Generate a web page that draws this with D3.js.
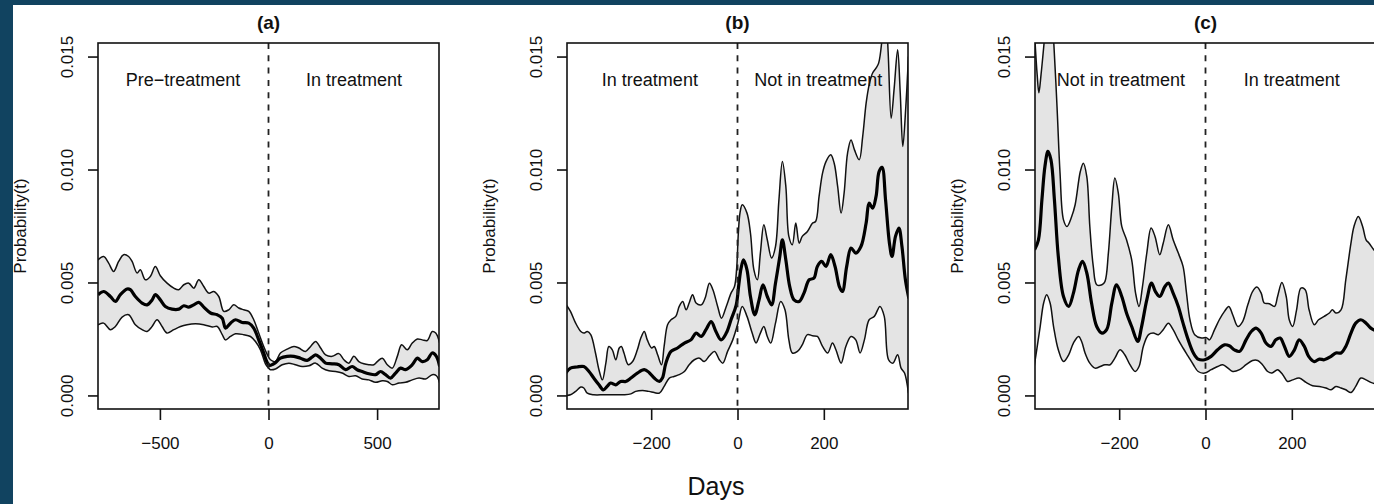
<!DOCTYPE html>
<html>
<head>
<meta charset="utf-8">
<script src="https://cdn.jsdelivr.net/npm/d3@7"></script>
<style>
  body { margin: 0; background: #fff; }
  svg { display: block; }
  text { font-family: "Liberation Sans", Arial, Helvetica, sans-serif; fill: #111; }
</style>
</head>
<body>
<svg id="chart"></svg>
<script>
// values, [day, probability x 1000]
const aUpper = [[-785, 6.0], [-759, 6.15], [-736, 5.86], [-713, 5.49], [-690, 5.93], [-667, 6.23], [-644, 6.15], [-628, 5.93], [-605, 5.42], [-590, 5.56], [-567, 5.12], [-544, 5.27], [-521, 5.71], [-498, 5.3], [-467, 4.97], [-436, 4.75], [-413, 4.68], [-390, 4.90], [-367, 4.97], [-344, 4.75], [-321, 5.12], [-298, 4.82], [-275, 4.53], [-252, 4.60], [-229, 4.38], [-206, 3.72], [-183, 3.79], [-160, 4.01], [-137, 3.87], [-114, 3.79], [-91, 3.72], [-68, 3.35], [-45, 2.76], [-22, 2.17], [-5, 1.8], [9, 1.58], [32, 1.50], [55, 1.88], [86, 2.05], [117, 2.17], [140, 2.10], [170, 1.95], [194, 2.17], [217, 2.39], [240, 2.10], [263, 1.80], [293, 1.73], [324, 1.85], [347, 1.58], [370, 1.43], [393, 1.73], [416, 1.50], [439, 1.40], [462, 1.36], [485, 1.36], [501, 1.50], [524, 1.65], [547, 1.36], [570, 1.21], [593, 1.73], [613, 2.24], [639, 2.02], [662, 2.32], [685, 2.50], [708, 2.46], [731, 2.43], [754, 2.83], [770, 2.76], [788, 2.32]]
const aMean = [[-785, 4.46], [-759, 4.60], [-728, 4.38], [-705, 4.16], [-682, 4.46], [-651, 4.71], [-636, 4.68], [-613, 4.38], [-582, 4.09], [-559, 4.01], [-536, 4.23], [-521, 4.46], [-498, 4.23], [-475, 3.94], [-444, 3.82], [-413, 3.82], [-390, 3.97], [-367, 3.91], [-344, 4.01], [-321, 4.12], [-298, 3.91], [-267, 3.65], [-236, 3.57], [-213, 3.42], [-198, 2.98], [-175, 3.20], [-152, 3.35], [-121, 3.23], [-91, 3.20], [-68, 2.98], [-45, 2.46], [-22, 1.88], [-8, 1.5], [5, 1.33], [20, 1.38], [32, 1.45], [55, 1.65], [86, 1.73], [117, 1.73], [147, 1.65], [178, 1.55], [201, 1.70], [217, 1.80], [240, 1.65], [263, 1.43], [293, 1.40], [324, 1.36], [355, 1.14], [385, 1.28], [408, 1.14], [431, 1.06], [462, 0.96], [493, 0.92], [516, 1.06], [539, 0.92], [562, 0.77], [585, 0.99], [608, 1.21], [631, 1.14], [662, 1.36], [685, 1.65], [708, 1.50], [731, 1.58], [754, 1.88], [773, 1.73], [788, 1.28]]
const aLower = [[-785, 3.13], [-759, 3.20], [-728, 2.91], [-705, 3.05], [-674, 3.47], [-644, 3.57], [-613, 3.13], [-582, 2.91], [-559, 2.83], [-536, 3.05], [-513, 3.35], [-490, 3.05], [-467, 2.76], [-436, 2.91], [-405, 3.05], [-375, 3.13], [-336, 3.17], [-298, 3.13], [-259, 3.03], [-236, 3.05], [-213, 2.69], [-198, 2.46], [-175, 2.61], [-152, 2.73], [-114, 2.69], [-83, 2.61], [-60, 2.39], [-37, 2.02], [-14, 1.40], [0, 1.22], [9, 1.14], [32, 1.17], [63, 1.36], [94, 1.43], [124, 1.36], [155, 1.28], [186, 1.31], [217, 1.43], [247, 1.21], [278, 1.09], [309, 1.06], [339, 0.99], [370, 0.84], [401, 0.87], [431, 0.73], [462, 0.69], [493, 0.58], [524, 0.65], [547, 0.62], [570, 0.47], [601, 0.55], [631, 0.58], [662, 0.69], [693, 0.77], [723, 0.73], [754, 0.92], [773, 0.87], [788, 0.55]]

const bUpper = [[-398, 4.05], [-387, 3.72], [-375, 3.20], [-363, 2.83], [-356, 2.76], [-348, 2.83], [-340, 2.69], [-329, 1.88], [-321, 1.14], [-313, 0.69], [-305, 1.43], [-298, 2.17], [-290, 2.02], [-282, 1.58], [-274, 2.10], [-269, 2.17], [-263, 1.88], [-253, 1.36], [-243, 1.50], [-232, 2.02], [-224, 2.54], [-216, 2.83], [-209, 2.46], [-199, 2.10], [-193, 2.17], [-185, 1.80], [-176, 1.36], [-170, 2.17], [-162, 3.13], [-154, 3.35], [-143, 3.50], [-135, 3.94], [-127, 4.16], [-119, 3.79], [-112, 4.09], [-104, 4.46], [-96, 4.09], [-84, 4.01], [-75, 4.31], [-65, 4.97], [-57, 4.68], [-46, 3.94], [-37, 3.42], [-26, 3.94], [-15, 4.53], [-7, 4.82], [-2, 5.6], [2, 7.2], [6, 8.1], [11, 8.44], [22, 8.07], [30, 7.19], [38, 5.56], [46, 5.12], [53, 6.30], [61, 7.55], [69, 6.89], [79, 6.08], [88, 6.59], [96, 8.66], [104, 10.35], [112, 9.25], [119, 7.04], [127, 6.67], [135, 7.63], [143, 6.74], [150, 7.04], [162, 7.26], [174, 7.63], [181, 7.70], [189, 8.81], [197, 9.84], [205, 10.35], [216, 10.65], [224, 10.28], [232, 9.25], [240, 8.07], [247, 8.96], [255, 10.73], [263, 11.31], [271, 10.87], [282, 10.43], [290, 11.46], [298, 12.94], [305, 13.75], [313, 14.27], [321, 14.49], [327, 14.71], [335, 15.8], [342, 17.5], [349, 15.2], [356, 12.27], [363, 13.6], [371, 15.3], [377, 13.4], [383, 11.02], [390, 12.8], [396, 15.0]]
const bMean = [[-398, 0.99], [-387, 1.21], [-372, 1.26], [-356, 1.28], [-344, 1.06], [-333, 0.77], [-321, 0.47], [-311, 0.25], [-302, 0.40], [-294, 0.55], [-282, 0.47], [-271, 0.62], [-259, 0.62], [-247, 0.77], [-232, 0.99], [-216, 1.14], [-205, 1.02], [-193, 0.77], [-181, 0.62], [-174, 0.77], [-166, 1.43], [-154, 1.95], [-139, 2.10], [-123, 2.32], [-108, 2.46], [-96, 2.76], [-84, 2.61], [-73, 2.91], [-61, 3.27], [-50, 2.83], [-38, 2.46], [-26, 2.76], [-15, 3.35], [-3, 4.0], [3, 4.9], [8, 5.6], [14, 6.0], [22, 5.56], [30, 4.38], [40, 3.57], [50, 4.23], [59, 4.90], [69, 4.38], [79, 4.01], [88, 4.97], [98, 6.15], [104, 6.89], [112, 6.00], [121, 4.82], [131, 4.23], [143, 4.16], [154, 4.53], [166, 5.12], [177, 5.19], [185, 5.71], [195, 5.93], [205, 5.71], [216, 6.23], [226, 5.71], [236, 4.82], [243, 4.60], [253, 5.71], [263, 6.52], [274, 6.30], [286, 6.59], [298, 7.63], [305, 8.51], [313, 8.29], [321, 8.81], [328, 9.91], [335, 10.1], [343, 8.66], [352, 6.74], [358, 6.15], [366, 7.04], [374, 7.41], [381, 6.59], [389, 5.12], [397, 4.3]]
const bLower = [[-398, 0.0], [-387, 0.03], [-375, 0.18], [-363, 0.37], [-356, 0.33], [-348, 0.10], [-333, 0.03], [-310, 0.03], [-286, 0.03], [-263, 0.03], [-247, 0.07], [-236, 0.18], [-220, 0.22], [-205, 0.18], [-193, 0.13], [-181, 0.10], [-170, 0.40], [-158, 0.77], [-147, 0.84], [-135, 0.92], [-123, 1.06], [-112, 1.36], [-100, 1.58], [-88, 1.65], [-77, 1.50], [-65, 1.76], [-53, 1.95], [-42, 1.58], [-34, 1.43], [-23, 1.95], [-11, 2.46], [1, 3.2], [11, 3.94], [22, 3.50], [34, 2.76], [43, 2.32], [53, 2.76], [61, 3.05], [69, 2.61], [77, 2.32], [88, 3.20], [100, 4.16], [110, 3.79], [119, 2.46], [127, 1.88], [139, 1.95], [150, 2.24], [162, 2.69], [174, 2.64], [185, 2.61], [197, 2.17], [209, 1.88], [220, 2.32], [228, 2.02], [240, 1.43], [251, 2.17], [263, 2.61], [274, 2.46], [284, 1.88], [294, 2.46], [305, 3.35], [317, 3.50], [330, 3.94], [340, 3.50], [350, 1.58], [360, 1.43], [371, 1.80], [379, 1.21], [387, 0.99], [396, 0.10]]

const cUpper = [[-396, 16.0], [-390, 14.2], [-386, 13.4], [-381, 14.2], [-373, 15.8], [-365, 17.5], [-358, 17.5], [-352, 15.8], [-344, 12.79], [-337, 9.84], [-329, 7.77], [-321, 7.48], [-310, 7.92], [-302, 8.44], [-290, 9.91], [-283, 10.28], [-275, 9.69], [-268, 7.48], [-260, 5.71], [-252, 4.90], [-240, 4.90], [-233, 5.04], [-225, 6.30], [-217, 8.36], [-210, 9.62], [-202, 8.96], [-194, 7.48], [-183, 6.89], [-171, 6.00], [-162, 4.53], [-154, 3.94], [-146, 4.82], [-136, 6.30], [-126, 7.41], [-117, 7.04], [-106, 6.23], [-98, 6.74], [-86, 7.55], [-75, 6.89], [-63, 6.30], [-52, 5.71], [-44, 4.53], [-36, 3.35], [-25, 2.69], [-9, 2.54], [2, 2.56], [9, 2.46], [21, 2.91], [32, 3.35], [44, 3.72], [54, 3.94], [63, 3.57], [75, 3.05], [86, 3.27], [98, 4.01], [109, 4.60], [119, 4.80], [129, 4.53], [136, 4.09], [148, 4.06], [160, 3.94], [167, 4.38], [177, 5.00], [187, 4.38], [194, 3.35], [202, 3.05], [211, 3.79], [221, 4.75], [231, 4.68], [240, 3.79], [252, 3.13], [262, 3.35], [275, 3.50], [287, 3.65], [294, 3.79], [302, 3.65], [314, 3.79], [325, 5.12], [337, 6.74], [344, 7.48], [354, 7.92], [364, 7.48], [372, 6.89], [379, 6.74], [387, 6.52], [396, 6.3]]
const cMean = [[-396, 6.45], [-387, 6.89], [-379, 8.66], [-372, 10.13], [-365, 10.80], [-358, 10.43], [-350, 8.66], [-341, 6.15], [-329, 4.38], [-317, 3.94], [-306, 4.53], [-294, 5.56], [-285, 5.93], [-275, 5.42], [-264, 4.09], [-252, 3.05], [-240, 2.76], [-229, 2.91], [-217, 4.09], [-206, 4.90], [-194, 4.38], [-183, 3.65], [-171, 3.05], [-157, 2.39], [-148, 3.05], [-136, 4.23], [-125, 4.97], [-116, 4.60], [-106, 4.38], [-94, 4.82], [-86, 4.97], [-75, 4.53], [-63, 3.94], [-52, 3.20], [-40, 2.46], [-28, 1.88], [-17, 1.61], [-2, 1.58], [13, 1.73], [28, 2.02], [44, 2.24], [55, 2.20], [67, 2.02], [79, 1.95], [94, 2.46], [106, 2.83], [117, 2.98], [129, 2.76], [140, 2.32], [152, 2.17], [163, 2.46], [173, 2.54], [183, 2.17], [194, 1.73], [206, 2.02], [217, 2.46], [229, 2.17], [239, 1.73], [252, 1.50], [264, 1.61], [275, 1.58], [291, 1.73], [302, 1.88], [314, 1.88], [325, 2.17], [337, 2.76], [348, 3.20], [360, 3.35], [372, 3.20], [383, 2.98], [396, 2.85]]
const cLower = [[-398, 1.14], [-391, 2.02], [-383, 3.05], [-375, 4.09], [-368, 4.46], [-360, 4.09], [-352, 3.05], [-341, 2.02], [-329, 1.50], [-317, 1.80], [-306, 2.32], [-294, 2.61], [-287, 2.39], [-279, 1.88], [-268, 1.43], [-256, 1.21], [-244, 1.28], [-233, 1.36], [-221, 1.36], [-210, 1.65], [-198, 2.02], [-187, 1.80], [-175, 1.36], [-163, 1.06], [-154, 1.28], [-144, 2.17], [-132, 2.69], [-121, 2.76], [-109, 2.69], [-98, 2.91], [-86, 3.20], [-75, 2.91], [-63, 2.46], [-52, 2.10], [-40, 1.73], [-28, 1.36], [-17, 1.06], [-2, 0.99], [13, 1.14], [28, 1.28], [40, 1.36], [52, 1.21], [63, 1.06], [79, 1.14], [94, 1.36], [109, 1.55], [121, 1.55], [132, 1.36], [144, 1.06], [154, 0.99], [167, 1.14], [179, 0.92], [190, 0.62], [202, 0.69], [217, 0.77], [233, 0.58], [248, 0.43], [264, 0.40], [279, 0.33], [291, 0.25], [302, 0.40], [314, 0.33], [325, 0.25], [337, 0.13], [348, 0.40], [360, 0.77], [372, 0.69], [383, 0.58], [396, 0.50]]

const panelTitles = ['(a)', '(b)', '(c)']
const phaseLabels = [['Pre\u2212treatment', 'In treatment'], ['In treatment', 'Not in treatment'], ['Not in treatment', 'In treatment']]
const phaseLabelDays = [[-394, 394], [-203, 187], [-196, 200]]
const xDomains = [[-785, 785], [-395, 395], [-395, 395]]
const xTicks = [[-500, 0, 500], [-200, 0, 200], [-200, 0, 200]]
const yTicks = [0, 0.005, 0.010, 0.015]
const yDomain = [-0.0006, 0.0156]

const toProb = arr => arr.map(([d, v]) => [d, v / 1000])
const series = [
    [aUpper, aMean, aLower],
    [bUpper, bMean, bLower],
    [cUpper, cMean, cLower]
].map(s => s.map(toProb))

const W = 1374, H = 504
const plotW = 341, plotH = 366, plotTop = 43
const panelLefts = [98, 567, 1035]
const edge = '#114360'

const svg = d3.select('#chart').attr('width', W).attr('height', H)
svg.append('rect').attr('width', W).attr('height', H).attr('fill', '#fff')

panelTitles.forEach((title, i) => {
    const [upper, mean, lower] = series[i]
    const x = d3.scaleLinear().domain(xDomains[i]).range([0, plotW])
    const y = d3.scaleLinear().domain(yDomain).range([plotH, 0])
    const g = svg.append('g').attr('transform', `translate(${panelLefts[i]},${plotTop})`)

    g.append('clipPath').attr('id', `clip-${i}`)
        .append('rect').attr('width', plotW).attr('height', plotH)
    const plot = g.append('g').attr('clip-path', `url(#clip-${i})`)

    const line = d3.line()
        .x(d => x(d[0]))
        .y(d => y(d[1]))
        .curve(d3.curveCatmullRom.alpha(0.5))

    // confidence band: upper forward, lower back
    const band = line(upper) + 'L' + line(lower.slice().reverse()).slice(1) + 'Z'
    plot.append('path').attr('d', band).attr('fill', '#e4e4e4').attr('stroke', 'none')

    g.selectAll('text.phase')
        .data(phaseLabels[i])
        .join('text')
        .classed('phase', true)
        .attr('x', (d, k) => x(phaseLabelDays[i][k]))
        .attr('y', 43)
        .attr('text-anchor', 'middle')
        .style('font-size', '18px')
        .text(d => d)

    plot.selectAll('path.bound')
        .data([upper, lower])
        .join('path')
        .classed('bound', true)
        .attr('d', line)
        .attr('fill', 'none')
        .attr('stroke', '#111')
        .attr('stroke-width', 1.5)

    plot.append('path')
        .attr('d', line(mean))
        .attr('fill', 'none')
        .attr('stroke', '#000')
        .attr('stroke-width', 3.2)
        .attr('stroke-linejoin', 'round')

    g.append('line')
        .attr('x1', x(0)).attr('x2', x(0))
        .attr('y1', 0).attr('y2', plotH)
        .attr('stroke', '#222')
        .attr('stroke-width', 1.8)
        .attr('stroke-dasharray', '6,6.3')

    g.append('rect')
        .attr('width', plotW).attr('height', plotH)
        .attr('fill', 'none').attr('stroke', '#111').attr('stroke-width', 1.6)

    const xAxis = g.append('g')
        .attr('transform', `translate(0,${plotH})`)
        .call(d3.axisBottom(x).tickValues(xTicks[i]).tickSize(11).tickSizeOuter(0).tickPadding(16.5))
    xAxis.select('.domain').remove()
    xAxis.selectAll('line').attr('stroke', '#111').attr('stroke-width', 1.6)
    xAxis.selectAll('text').style('font-size', '17px').style('font-family', '"Liberation Sans", Arial, sans-serif').attr('fill', '#111')

    const yAxis = g.append('g')
        .call(d3.axisLeft(y).tickValues(yTicks).tickSize(10).tickFormat(d3.format('.3f')))
    yAxis.select('.domain').remove()
    yAxis.selectAll('line').attr('stroke', '#111').attr('stroke-width', 1.6)
    yAxis.selectAll('text')
        .attr('x', 0).attr('dy', null)
        .attr('transform', 'translate(-25,0) rotate(-90)')
        .attr('text-anchor', 'middle')
        .style('font-size', '17px')
        .style('font-family', '"Liberation Sans", Arial, sans-serif')
        .attr('fill', '#111')

    g.append('text')
        .attr('transform', `translate(-72,${plotH / 2}) rotate(-90)`)
        .attr('text-anchor', 'middle')
        .style('font-size', '17px')
        .text('Probability(t)')

    g.append('text')
        .attr('x', x(0)).attr('y', -13.7)
        .attr('text-anchor', 'middle')
        .style('font-size', '19px').style('font-weight', 'bold')
        .text(title)
})

svg.append('text')
    .attr('x', 716).attr('y', 495)
    .attr('text-anchor', 'middle')
    .style('font-size', '25px')
    .text('Days')

// dark frame strips from the page the figure sits in
svg.append('rect').attr('width', 13).attr('height', H).attr('fill', edge)
svg.append('rect').attr('width', W).attr('height', 5).attr('fill', edge)
</script>
</body>
</html>
